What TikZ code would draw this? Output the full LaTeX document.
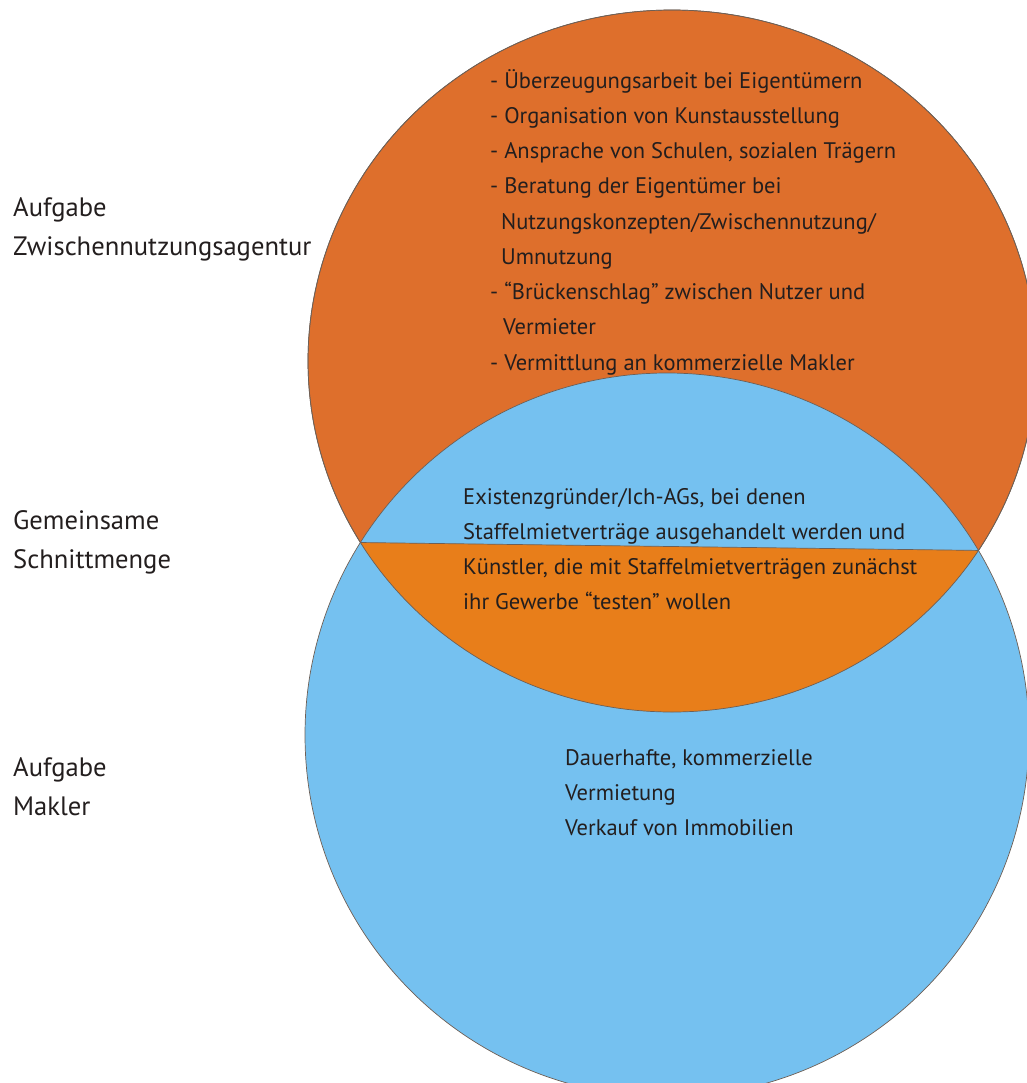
\documentclass[tikz,border=0pt]{standalone}
\usepackage{fontspec}
\setmainfont{PT Sans}
\usetikzlibrary{intersections}
\definecolor{orangeC}{RGB}{222,111,44}
\definecolor{lensC}{RGB}{232,126,26}
\definecolor{blueC}{RGB}{117,193,240}
\definecolor{edgeC}{RGB}{110,95,85}
\definecolor{txt}{RGB}{35,30,30}
\newcommand\circfont{\fontsize{22.5bp}{35.25bp}\selectfont}
\newcommand\sidefont{\fontsize{26.6bp}{39bp}\selectfont}
\newcommand\textlines[1]{\vtop{\lineskiplimit=-100bp #1}}
\tikzset{
  sidelabel/.style={anchor=base west, inner sep=0pt, font=\sidefont, text=txt},
  circtext/.style={anchor=base west, inner sep=0pt, font=\circfont, text=txt},
  outline/.style={draw=edgeC, line width=0.7bp},
}
\begin{document}
\begin{tikzpicture}[x=1bp,y=-1bp]
\useasboundingbox (0,0) rectangle (1027,1083);
\clip (0,0) rectangle (1027,1083);
% circles
\path[name path=orangeE, fill=orangeC, outline] (672,361) ellipse [x radius=364, y radius=351];
\path[name path=blueP, fill=blueC, outline] (667,735) circle [radius=362];
\path[name intersections={of=orangeE and blueP, name=X}];
\coordinate (pL) at (X-1);
\coordinate (pR) at (X-2);
% lower half of the lens
\begin{scope}
  \clip (672,361) ellipse [x radius=364, y radius=351];
  \clip (667,735) circle [radius=362];
  \fill[lensC] (pL) -- (pR) -- ++(0,600) -| (pL) -- cycle;
\end{scope}
\draw[outline] (pL) -- (pR);
\draw[outline] (672,361) ellipse [x radius=364, y radius=351];
% left labels
\node[sidelabel] (lab1) at (13,216) {\textlines{\hbox{Aufgabe}\hbox{Zwischennutzungsagentur}}};
\node[sidelabel] (lab2) at (13,529) {\textlines{\hbox{Gemeinsame}\hbox{Schnittmenge}}};
\node[sidelabel] (lab3) at (13,776) {\textlines{\hbox{Aufgabe}\hbox{Makler}}};
% texts in circles
\node[circtext] (agentur) at (490,88) {\textlines{%
  \hbox{- Überzeugungsarbeit bei Eigentümern}%
  \hbox{- Organisation von Kunstausstellung}%
  \hbox{- Ansprache von Schulen, sozialen Trägern}%
  \hbox{- Beratung der Eigentümer bei}%
  \hbox{\hspace{11bp}Nutzungskonzepten/Zwischennutzung/}%
  \hbox{\hspace{11bp}Umnutzung}%
  \hbox{- “Brückenschlag” zwischen Nutzer und}%
  \hbox{\hspace{13bp}Vermieter}%
  \hbox{- Vermittlung an kommerzielle Makler}}};
\node[circtext] (schnitt) at (463,504) {\textlines{%
  \hbox{Existenzgründer/Ich-AGs, bei denen}%
  \hbox{Staffelmietverträge ausgehandelt werden und}%
  \hbox{Künstler, die mit Staffelmietverträgen zunächst}%
  \hbox{ihr Gewerbe “testen” wollen}}};
\node[circtext] (makler) at (565,765) {\textlines{%
  \hbox{Dauerhafte, kommerzielle}%
  \hbox{Vermietung}%
  \hbox{Verkauf von Immobilien}}};
\end{tikzpicture}
\end{document}
